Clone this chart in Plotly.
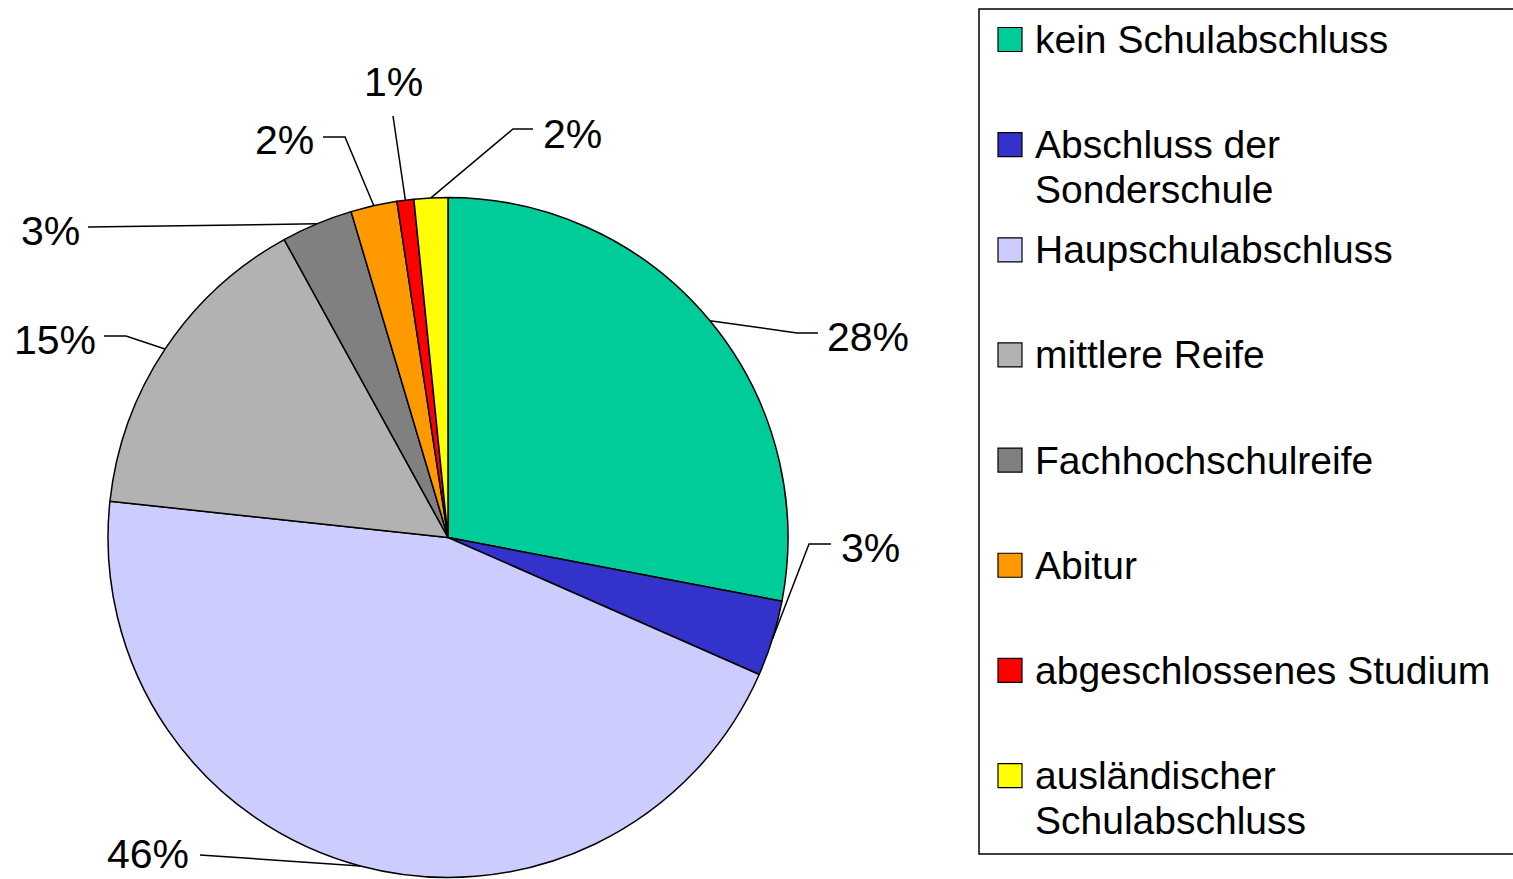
import math
import plotly.graph_objects as go

# ---------------- data ----------------
categories = [
    "kein Schulabschluss",
    "Abschluss der Sonderschule",
    "Haupschulabschluss",
    "mittlere Reife",
    "Fachhochschulreife",
    "Abitur",
    "abgeschlossenes Studium",
    "ausländischer Schulabschluss",
]
legend_lines = [
    ["kein Schulabschluss"],
    ["Abschluss der", "Sonderschule"],
    ["Haupschulabschluss"],
    ["mittlere Reife"],
    ["Fachhochschulreife"],
    ["Abitur"],
    ["abgeschlossenes Studium"],
    ["ausländischer", "Schulabschluss"],
]
shares = [28.0, 3.6, 45.1, 15.3, 3.4, 2.2, 0.8, 1.6]
pct_labels = ["28%", "3%", "46%", "15%", "3%", "2%", "1%", "2%"]
colors = ["#00CC99", "#3333CC", "#CCCCFF", "#B2B2B2", "#808080", "#FF9900", "#FF0000", "#FFFF00"]

# ---------------- layout constants (pixels) ----------------
W, H = 1513, 879
CX, CY, R = 448, 537.5, 340
FONT = "Liberation Sans, Arial, sans-serif"
LABEL_SIZE = 41
LEGEND_SIZE = 39

# label placement: (text x, text y, xanchor, elbow point, end point)
label_layout = [
    (825, 337, "left", (797, 333), (818, 333)),
    (839, 548, "left", (809, 544), (831, 544)),
    (191, 854, "right", (200, 855), (200, 855)),
    (98, 340, "right", (126, 336), (104, 336)),
    (82, 231, "right", (88, 227), (88, 227)),
    (316, 140, "right", (345, 137), (323, 137)),
    (393, 82, "center", (393, 116), (393, 116)),
    (541, 134, "left", (513, 129), (533, 129)),
]


def px(x):
    return x / W


def py(y):
    return 1 - y / H


fig = go.Figure()
fig.add_trace(
    go.Pie(
        labels=categories,
        values=shares,
        sort=False,
        direction="clockwise",
        rotation=0,
        textinfo="none",
        hoverinfo="label+percent",
        marker=dict(colors=colors, line=dict(color="black", width=1.5)),
        domain=dict(x=[px(CX - R), px(CX + R)], y=[py(CY + R), py(CY - R)]),
        showlegend=False,
    )
)

shapes = []
annotations = []
total = sum(shares)
cum = 0.0
for val, txt, (tx, ty, xa, elbow, end) in zip(shares, pct_labels, label_layout):
    mid = (cum + val / 2) / total * 2 * math.pi
    cum += val
    ex = CX + R * math.sin(mid)
    ey = CY - R * math.cos(mid)
    path = f"M {px(ex)},{py(ey)} L {px(elbow[0])},{py(elbow[1])} L {px(end[0])},{py(end[1])}"
    shapes.append(dict(type="path", xref="paper", yref="paper", path=path,
                       line=dict(color="black", width=1.5)))
    annotations.append(dict(x=px(tx), y=py(ty), xref="paper", yref="paper", text=txt,
                            showarrow=False, xanchor=xa, yanchor="middle",
                            font=dict(family=FONT, size=LABEL_SIZE, color="black")))

# legend box (manual)
LEG_X0, LEG_Y0, LEG_Y1 = 979, 9, 854
shapes.append(dict(type="rect", xref="paper", yref="paper",
                   x0=px(LEG_X0), x1=px(W + 20), y0=py(LEG_Y1), y1=py(LEG_Y0),
                   line=dict(color="black", width=1.5), fillcolor="rgba(0,0,0,0)"))
ITEM_Y0, ITEM_STEP, LINE_STEP, SW = 39.5, 105.15, 45, 24
for i, (lines, col) in enumerate(zip(legend_lines, colors)):
    cy = ITEM_Y0 + i * ITEM_STEP
    shapes.append(dict(type="rect", xref="paper", yref="paper",
                       x0=px(998), x1=px(998 + SW), y0=py(cy + SW / 2), y1=py(cy - SW / 2),
                       line=dict(color="black", width=1.2), fillcolor=col))
    for j, line in enumerate(lines):
        annotations.append(dict(x=px(1033), y=py(cy + j * LINE_STEP), xref="paper", yref="paper",
                                text=line, showarrow=False, xanchor="left", yanchor="middle",
                                font=dict(family=FONT, size=LEGEND_SIZE, color="black")))

fig.update_layout(
    width=W,
    height=H,
    margin=dict(l=0, r=0, t=0, b=0),
    paper_bgcolor="white",
    plot_bgcolor="white",
    shapes=shapes,
    annotations=annotations,
    showlegend=False,
)

fig.write_html("out.html",
               config={"displayModeBar": False},
               post_script="document.body.style.margin='0';document.body.style.overflow='hidden';")
